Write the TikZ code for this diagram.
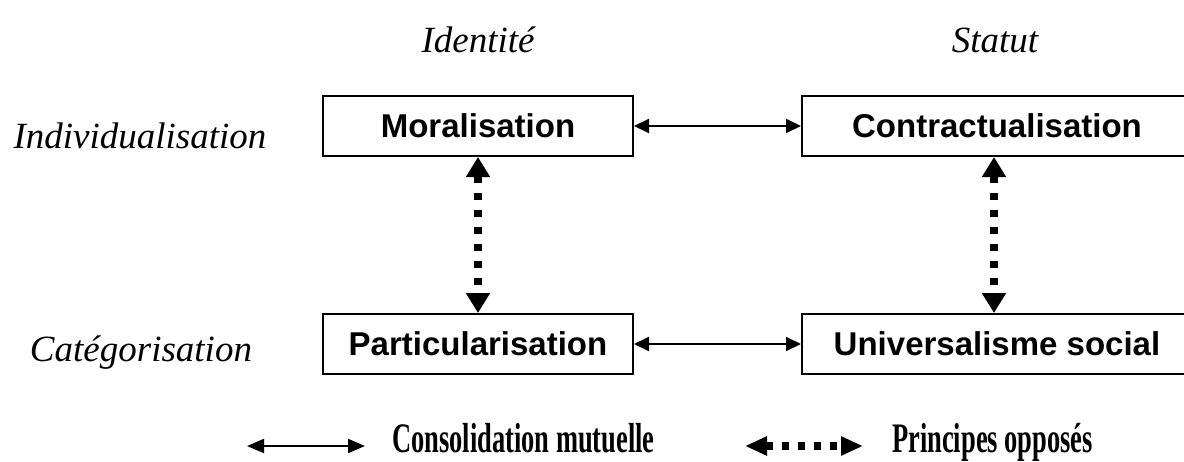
\documentclass[tikz,border=0pt]{standalone}
\usepackage{fontspec}
\usepackage{graphicx}
\setmainfont{Liberation Serif}
\newfontfamily\arialf{Liberation Sans}
\usetikzlibrary{arrows.meta}
\begin{document}
\begin{tikzpicture}[x=1pt,y=-1pt,
  box/.style={draw, line width=2pt, minimum height=60pt, inner sep=0pt,
    font=\arialf\bfseries\fontsize{33}{40}\selectfont},
  rowlab/.style={font=\itshape\fontsize{37}{44}\selectfont, anchor=base, inner sep=0pt},
  legtext/.style={font=\bfseries\fontsize{42}{50}\selectfont, anchor=base west, inner sep=0pt},
  solidarr/.style={line width=2pt, {Triangle[length=15pt,width=14pt]}-{Triangle[length=15pt,width=14pt]}},
  dotarr/.style={line width=8pt, dash pattern=on 7pt off 10pt,
    {Triangle[length=20pt,width=23pt]}-{Triangle[length=20pt,width=23pt]}},
  legdot/.style={line width=8pt, dash pattern=on 7pt off 9pt,
    {Triangle[length=22pt,width=18pt]}-{Triangle[length=22pt,width=18pt]}},
  legsolid/.style={line width=2pt, {Triangle[length=17pt,width=14pt]}-{Triangle[length=17pt,width=14pt]}}
]
\clip (0,0) rectangle (1184,461);
\fill[white] (0,0) rectangle (1184,461);

\node[box, minimum width=310pt] (M) at (478,126) {Moralisation};
\node[box, minimum width=390pt] (C) at (997,126) {Contractualisation};
\node[box, minimum width=310pt] (P) at (478,344) {Particularisation};
\node[box, minimum width=390pt] (U) at (997,344) {Universalisme social};

\draw[solidarr] (M.east) -- (C.west);
\draw[solidarr] (P.east) -- (U.west);
\draw[dotarr] (M.south) -- (P.north);
\draw[dotarr] ([xshift=-3pt]C.south) -- ([xshift=-3pt]U.north);

\node[rowlab] (ind) at (140,148) {Individualisation};
\node[rowlab] (cat) at (141,361) {Catégorisation};
\node[rowlab] (id) at (478,52) {Identité};
\node[rowlab] (st) at (995,52) {Statut};

\coordinate (la) at (247,446);
\coordinate (lb) at (365,446);
\draw[legsolid] (la) -- (lb);
\node[legtext] (lt1) at (392,452) {\scalebox{0.63}[1]{Consolidation mutuelle}};
\coordinate (lc) at (745,446);
\coordinate (ld) at (863,446);
\draw[legdot] (lc) -- (ld);
\node[legtext] (lt2) at (892,452) {\scalebox{0.63}[1]{Principes opposés}};
\end{tikzpicture}
\end{document}
